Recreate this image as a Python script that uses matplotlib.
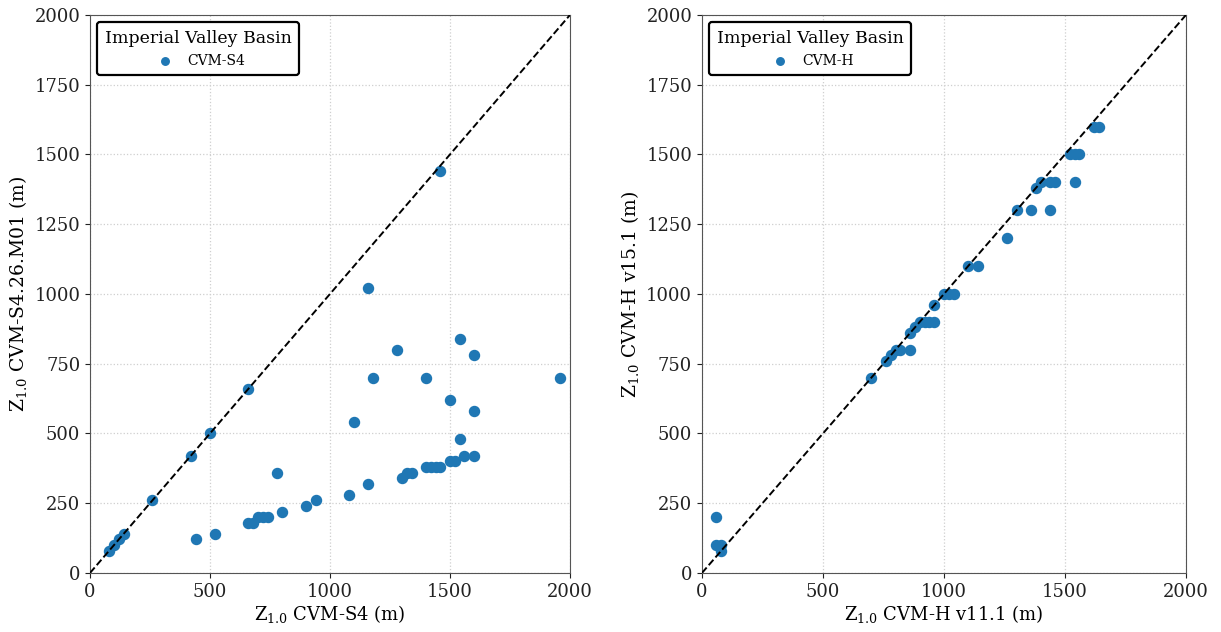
#!/usr/bin/env python3
"""Z1.0 comparison scatter plots for the Imperial Valley basin."""

import matplotlib

matplotlib.use("Agg")
import matplotlib.pyplot as plt

plt.rcParams["font.family"] = ["DejaVu Serif"]
plt.rcParams["mathtext.fontset"] = "dejavuserif"

# Left panel: CVM-S4 vs CVM-S4.26.M01 (m)
s4_x = [80, 100, 120, 140, 260, 420, 500, 660, 1460,
        440, 520, 660, 680, 700, 720, 740, 780, 800, 900, 940,
        1080, 1100, 1160, 1160, 1180, 1280, 1300, 1320, 1340,
        1400, 1400, 1420, 1440, 1460, 1500, 1500, 1520,
        1540, 1540, 1560, 1600, 1600, 1600, 1960]
s4_y = [80, 100, 120, 140, 260, 420, 500, 660, 1440,
        120, 140, 180, 180, 200, 200, 200, 360, 220, 240, 260,
        280, 540, 320, 1020, 700, 800, 340, 360, 360,
        700, 380, 380, 380, 380, 620, 400, 400,
        840, 480, 420, 780, 580, 420, 700]

# Right panel: CVM-H v11.1 vs CVM-H v15.1 (m)
h_x = [60, 60, 80, 80, 700, 760, 780, 800, 820, 860, 860, 880,
       900, 920, 940, 960, 960, 1000, 1020, 1040, 1100, 1140,
       1260, 1300, 1360, 1380, 1400, 1440, 1440, 1460, 1540,
       1520, 1540, 1560, 1620, 1640]
h_y = [200, 100, 100, 80, 700, 760, 780, 800, 800, 860, 800, 880,
       900, 900, 900, 900, 960, 1000, 1000, 1000, 1100, 1100,
       1200, 1300, 1300, 1380, 1400, 1300, 1400, 1400, 1400,
       1500, 1500, 1500, 1600, 1600]

panels = [
    (s4_x, s4_y, "CVM-S4", r"Z$_{1.0}$ CVM-S4 (m)", r"Z$_{1.0}$ CVM-S4.26.M01 (m)"),
    (h_x, h_y, "CVM-H", r"Z$_{1.0}$ CVM-H v11.1 (m)", r"Z$_{1.0}$ CVM-H v15.1 (m)"),
]
axes_pos = [[0.0737, 0.0934, 0.3931, 0.8829], [0.5749, 0.0934, 0.3964, 0.8829]]

fig = plt.figure(figsize=(12.21, 6.32), dpi=100)
for (x, y, label, xlabel, ylabel), pos in zip(panels, axes_pos):
    ax = fig.add_axes(pos)
    ax.plot([0, 2000], [0, 2000], "k--", lw=1.4, zorder=3)
    ax.scatter(x, y, s=52, color="#1f77b4", label=label, zorder=2)
    ax.set_xlim(0, 2000)
    ax.set_ylim(0, 2000)
    ax.set_xticks(range(0, 2001, 500))
    ax.set_yticks(range(0, 2001, 250))
    ax.grid(True, linestyle=":", color="#cfcfcf", lw=0.9)
    ax.tick_params(labelsize=13, colors="#222222")
    for sp in ax.spines.values():
        sp.set_color("#555555")
    ax.set_xlabel(xlabel, fontsize=13, labelpad=2)
    ax.set_ylabel(ylabel, fontsize=13.5, labelpad=4)
    leg = ax.legend(loc="upper left", title="Imperial Valley Basin",
                    title_fontsize=12.5, fontsize=10, frameon=True,
                    fancybox=True, edgecolor="black", framealpha=1,
                    markerscale=0.75, borderpad=0.55, handletextpad=0.6)
    leg.get_frame().set_linewidth(1.6)

fig.savefig("out.png", dpi=100)
